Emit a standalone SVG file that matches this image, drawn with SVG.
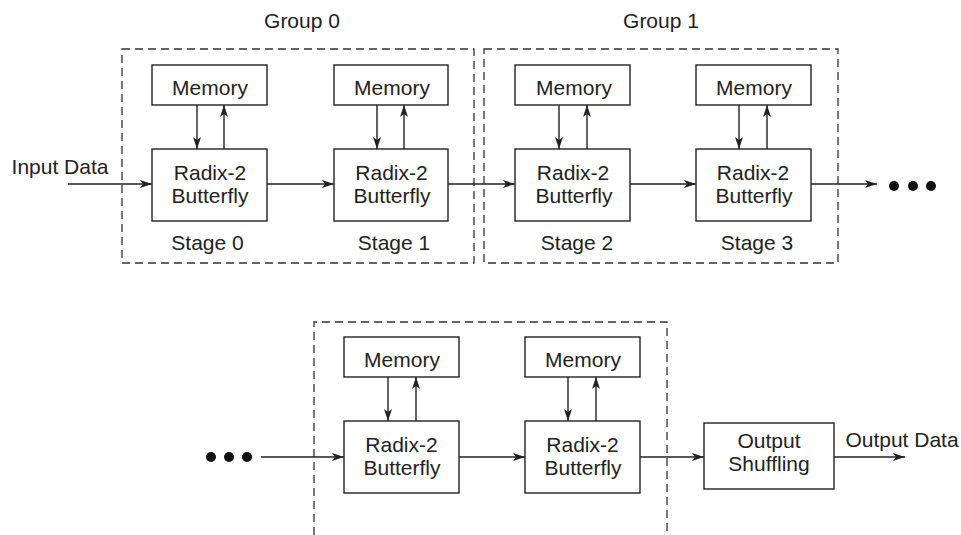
<svg xmlns="http://www.w3.org/2000/svg" width="961" height="535" viewBox="0 0 961 535">
<defs>
<style>
text{font-family:"Liberation Sans",Arial,sans-serif;font-size:21px;fill:#222;text-anchor:middle}
.box{fill:#fff;stroke:#222;stroke-width:1.4}
.grp{fill:none;stroke:#333;stroke-width:1.3;stroke-dasharray:8 5}
.ln{fill:none;stroke:#222;stroke-width:1.4}
.dot{fill:#111}
</style>
<marker id="ah" viewBox="0 0 12 8" refX="12" refY="4" markerWidth="12" markerHeight="8" markerUnits="userSpaceOnUse" orient="auto">
<path d="M0,0 L12,4 L0,8 L3,4 z" fill="#222"/>
</marker>
</defs>
<rect width="961" height="535" fill="#fff"/>

<g id="group0"><rect class="grp" x="122" y="49" width="352" height="214"/><text x="302" y="28">Group 0</text></g>
<g id="group1"><rect class="grp" x="484" y="49" width="354" height="214"/><text x="661" y="28">Group 1</text></g>
<g id="group2"><path class="grp" d="M314,535 V322 H667 V535"/></g>

<g id="mem0"><rect class="box" x="152" y="65" width="115" height="40"/><text x="210" y="95">Memory</text></g>
<g id="bf0"><rect class="box" x="152" y="149" width="115" height="72"/><text x="210" y="180">Radix-2</text><text x="210" y="203">Butterfly</text></g>
<g id="stage0"><text x="207.5" y="250">Stage 0</text></g>
<g id="mem1"><rect class="box" x="334" y="65" width="114" height="40"/><text x="392" y="95">Memory</text></g>
<g id="bf1"><rect class="box" x="334" y="149" width="114" height="72"/><text x="391.5" y="180">Radix-2</text><text x="392" y="203">Butterfly</text></g>
<g id="stage1"><text x="394" y="250">Stage 1</text></g>
<g id="mem2"><rect class="box" x="515" y="65" width="115" height="40"/><text x="574" y="95">Memory</text></g>
<g id="bf2"><rect class="box" x="515" y="149" width="115" height="72"/><text x="573" y="180">Radix-2</text><text x="574" y="203">Butterfly</text></g>
<g id="stage2"><text x="577" y="250">Stage 2</text></g>
<g id="mem3"><rect class="box" x="696" y="65" width="115" height="40"/><text x="754" y="95">Memory</text></g>
<g id="bf3"><rect class="box" x="696" y="149" width="115" height="72"/><text x="753" y="180">Radix-2</text><text x="754" y="203">Butterfly</text></g>
<g id="stage3"><text x="757" y="250">Stage 3</text></g>
<g id="input"><text x="60" y="174">Input Data</text></g>
<g id="dotsTop"><circle class="dot" cx="894" cy="186" r="5"/><circle class="dot" cx="913" cy="186" r="5"/><circle class="dot" cx="931" cy="186" r="5"/></g>

<g id="mem4"><rect class="box" x="344" y="337" width="115" height="40"/><text x="402" y="367">Memory</text></g>
<g id="bf4"><rect class="box" x="344" y="421" width="115" height="72"/><text x="401.5" y="452">Radix-2</text><text x="402" y="475">Butterfly</text></g>
<g id="mem5"><rect class="box" x="525" y="337" width="115" height="40"/><text x="583" y="367">Memory</text></g>
<g id="bf5"><rect class="box" x="525" y="421" width="115" height="72"/><text x="582.5" y="452">Radix-2</text><text x="583" y="475">Butterfly</text></g>
<g id="shuffle"><rect class="box" x="704" y="423" width="130" height="66"/><text x="769" y="448">Output</text><text x="769" y="471">Shuffling</text></g>
<g id="output"><text x="902" y="447">Output Data</text></g>
<g id="dotsBottom"><circle class="dot" cx="211" cy="457" r="5"/><circle class="dot" cx="229" cy="457" r="5"/><circle class="dot" cx="247" cy="457" r="5"/></g>

<g id="connectors">
<line class="ln" x1="68" y1="184" x2="152" y2="184" marker-end="url(#ah)"/>
<line class="ln" x1="267" y1="184" x2="334" y2="184" marker-end="url(#ah)"/>
<line class="ln" x1="448" y1="184" x2="515" y2="184" marker-end="url(#ah)"/>
<line class="ln" x1="630" y1="184" x2="696" y2="184" marker-end="url(#ah)"/>
<line class="ln" x1="811" y1="184" x2="877" y2="184" marker-end="url(#ah)"/>
<line class="ln" x1="197" y1="105" x2="197" y2="149" marker-end="url(#ah)"/>
<line class="ln" x1="224" y1="149" x2="224" y2="105" marker-end="url(#ah)"/>
<line class="ln" x1="377" y1="105" x2="377" y2="149" marker-end="url(#ah)"/>
<line class="ln" x1="404" y1="149" x2="404" y2="105" marker-end="url(#ah)"/>
<line class="ln" x1="559" y1="105" x2="559" y2="149" marker-end="url(#ah)"/>
<line class="ln" x1="587" y1="149" x2="587" y2="105" marker-end="url(#ah)"/>
<line class="ln" x1="739" y1="105" x2="739" y2="149" marker-end="url(#ah)"/>
<line class="ln" x1="767" y1="149" x2="767" y2="105" marker-end="url(#ah)"/>
<line class="ln" x1="261" y1="457" x2="344" y2="457" marker-end="url(#ah)"/>
<line class="ln" x1="459" y1="457" x2="525" y2="457" marker-end="url(#ah)"/>
<line class="ln" x1="640" y1="457" x2="704" y2="457" marker-end="url(#ah)"/>
<line class="ln" x1="834" y1="457" x2="905" y2="457" marker-end="url(#ah)"/>
<line class="ln" x1="388" y1="377" x2="388" y2="421" marker-end="url(#ah)"/>
<line class="ln" x1="416" y1="421" x2="416" y2="377" marker-end="url(#ah)"/>
<line class="ln" x1="568" y1="377" x2="568" y2="421" marker-end="url(#ah)"/>
<line class="ln" x1="596" y1="421" x2="596" y2="377" marker-end="url(#ah)"/>
</g>
</svg>
